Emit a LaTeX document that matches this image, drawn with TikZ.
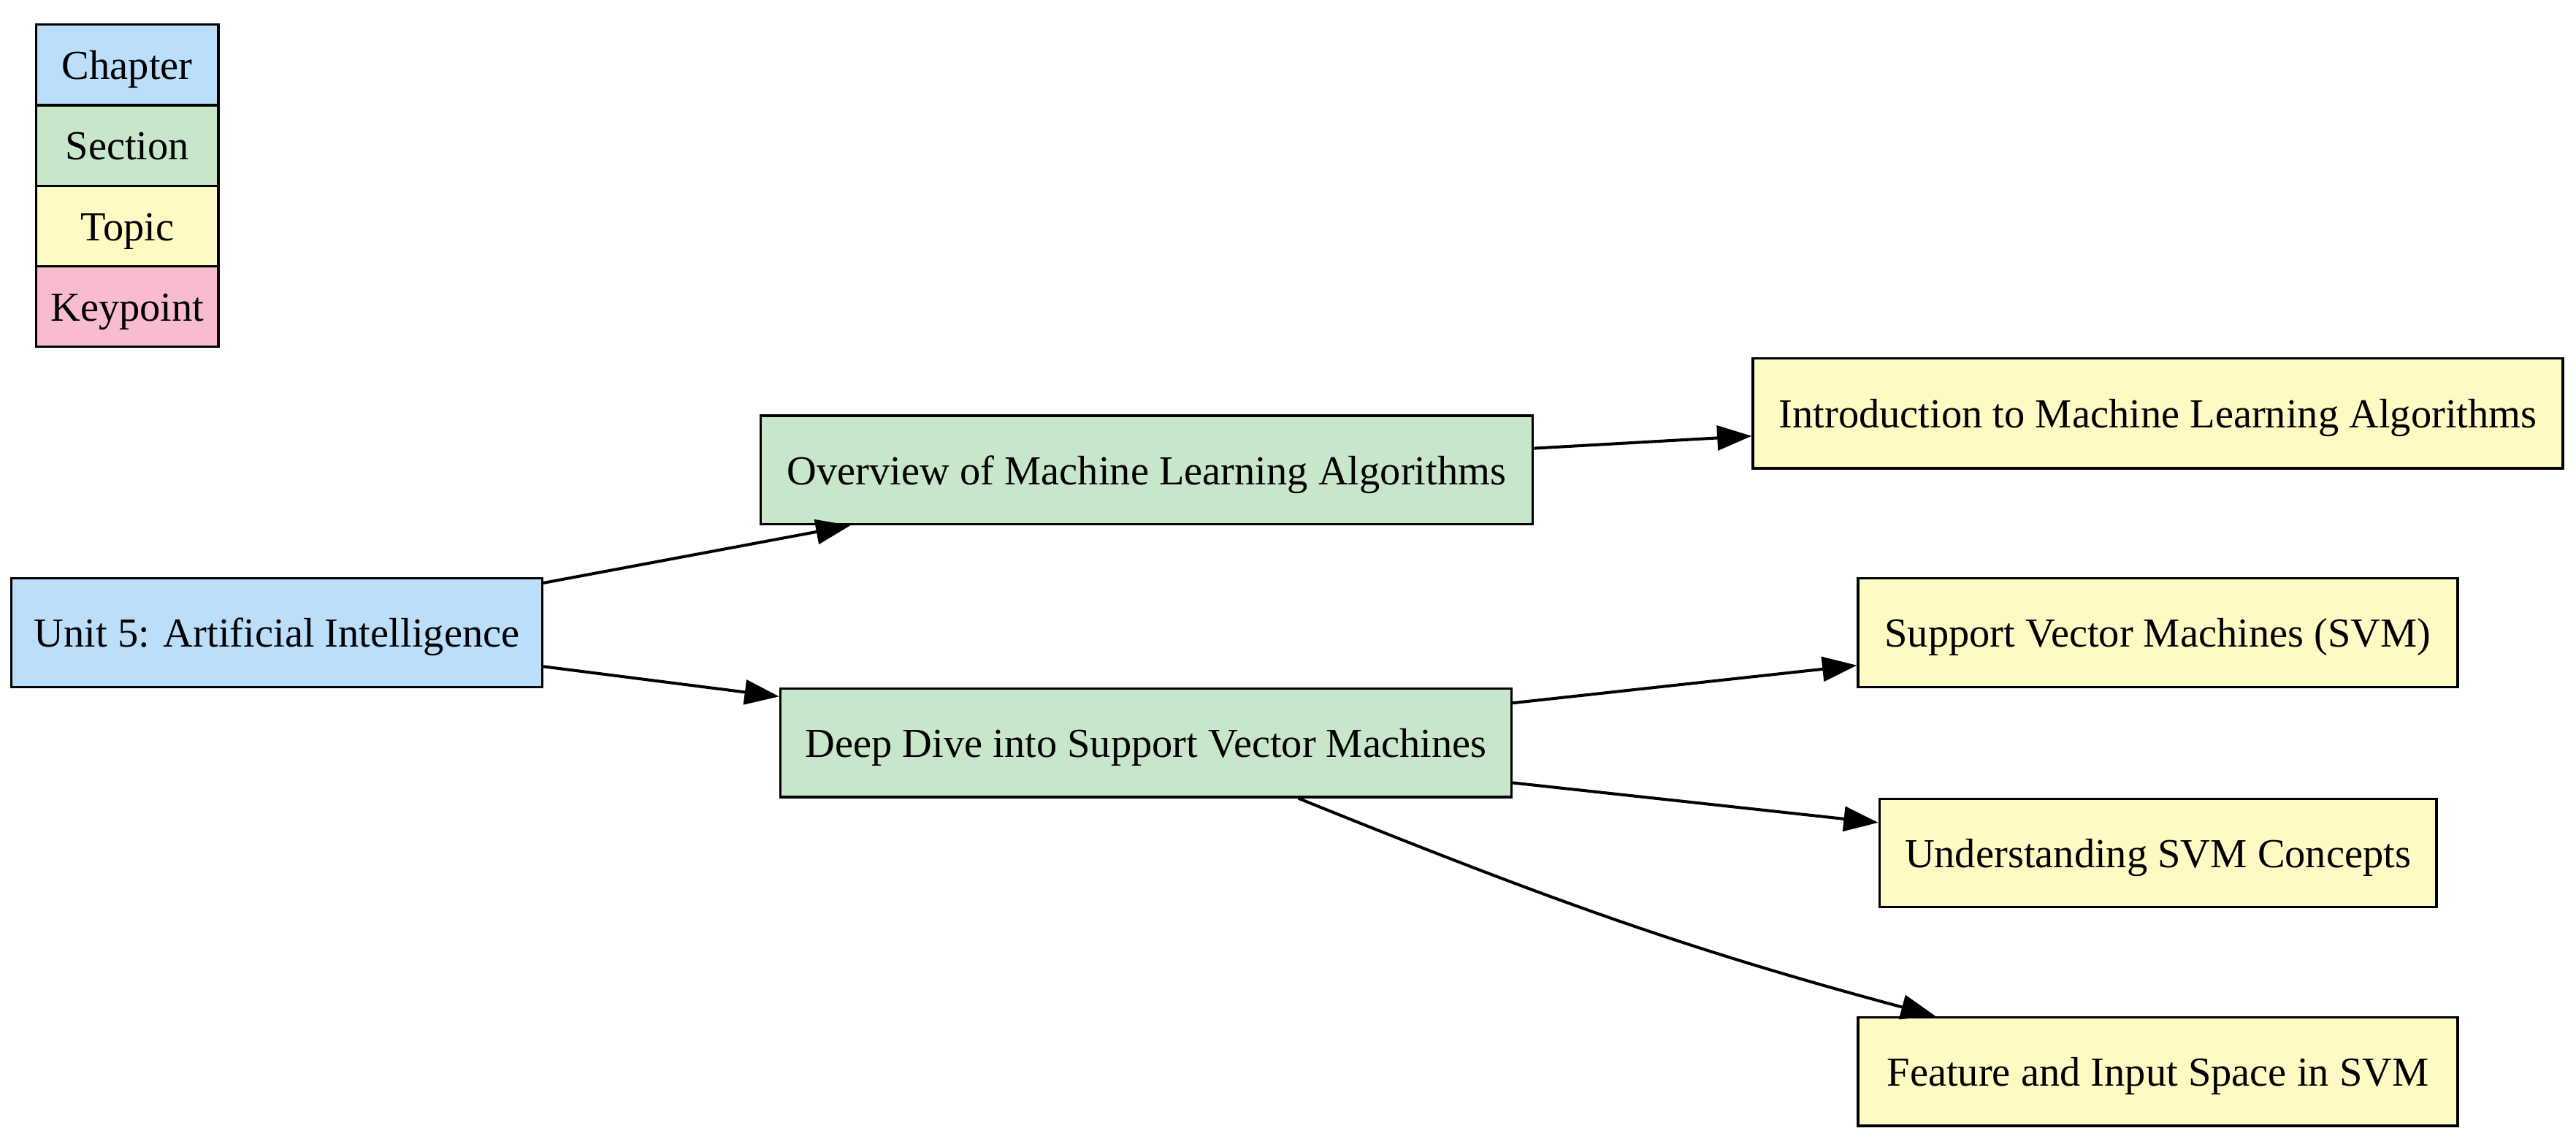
\documentclass[tikz,border=0pt]{standalone}
\usepackage{fontspec}
\setmainfont{Liberation Serif}
\usetikzlibrary{arrows.meta, positioning}
\definecolor{chapterblue}{HTML}{BBDEFB}
\definecolor{sectiongreen}{HTML}{C8E6C9}
\definecolor{topicyellow}{HTML}{FFF9C4}
\definecolor{keypink}{HTML}{F8BBD0}

\begin{document}
\begin{tikzpicture}[x=0.5pt, y=0.5pt,
  box/.style={draw, line width=0.75pt, inner sep=0pt, minimum height=33pt,
    text height=8.8pt, text depth=0pt, font=\fontsize{12.55}{15}\selectfont},
  chapterbox/.style={box, fill=chapterblue},
  sectionbox/.style={box, fill=sectiongreen},
  topicbox/.style={box, fill=topicyellow},
  legendbox/.style={box, minimum width=55.5pt, minimum height=24.5pt},
  link/.style={-{Triangle[length=10.5pt, width=7.5pt]}, line width=0.9pt}]
  \useasboundingbox (0,0) rectangle (1568,-693);

  % Legend
  \node[legendbox, fill=chapterblue] (legchapter) at (77.5,-39.5) {Chapter};
  \node[legendbox, fill=sectiongreen, below=-0.75pt of legchapter] (legsection) {Section};
  \node[legendbox, fill=topicyellow, below=-0.75pt of legsection] (legtopic) {Topic};
  \node[legendbox, fill=keypink, below=-0.75pt of legtopic] (legkeypoint) {Keypoint};

  % Chapter
  \node[chapterbox, minimum width=161.5pt] (unit) at (168.5,-385) {Unit 5: Artificial Intelligence};

  % Sections
  \node[sectionbox, minimum width=235pt] (overview) at (698,-286) {Overview of Machine Learning Algorithms};
  \node[sectionbox, minimum width=222.5pt] (deepdive) at (697.5,-452) {Deep Dive into Support Vector Machines};

  % Topics
  \node[topicbox, minimum width=246.5pt, minimum height=33.5pt] (intro) at (1313.5,-251.5) {Introduction to Machine Learning Algorithms};
  \node[topicbox, minimum width=182.5pt] (svm) at (1313.5,-385) {Support Vector Machines (SVM)};
  \node[topicbox, minimum width=169.5pt] (concepts) at (1313.5,-519) {Understanding SVM Concepts};
  \node[topicbox, minimum width=182.5pt] (featspace) at (1313.5,-652) {Feature and Input Space in SVM};

  % Links
  \draw[link] (unit) -- (overview);
  \draw[link] (unit) -- (deepdive);
  \draw[link] (overview) -- (intro);
  \draw[link] (deepdive) -- (svm);
  \draw[link] (deepdive) -- (concepts);
  \draw[link] (deepdive.-20) to[out=-22, in=165] (featspace.166);
\end{tikzpicture}
\end{document}
